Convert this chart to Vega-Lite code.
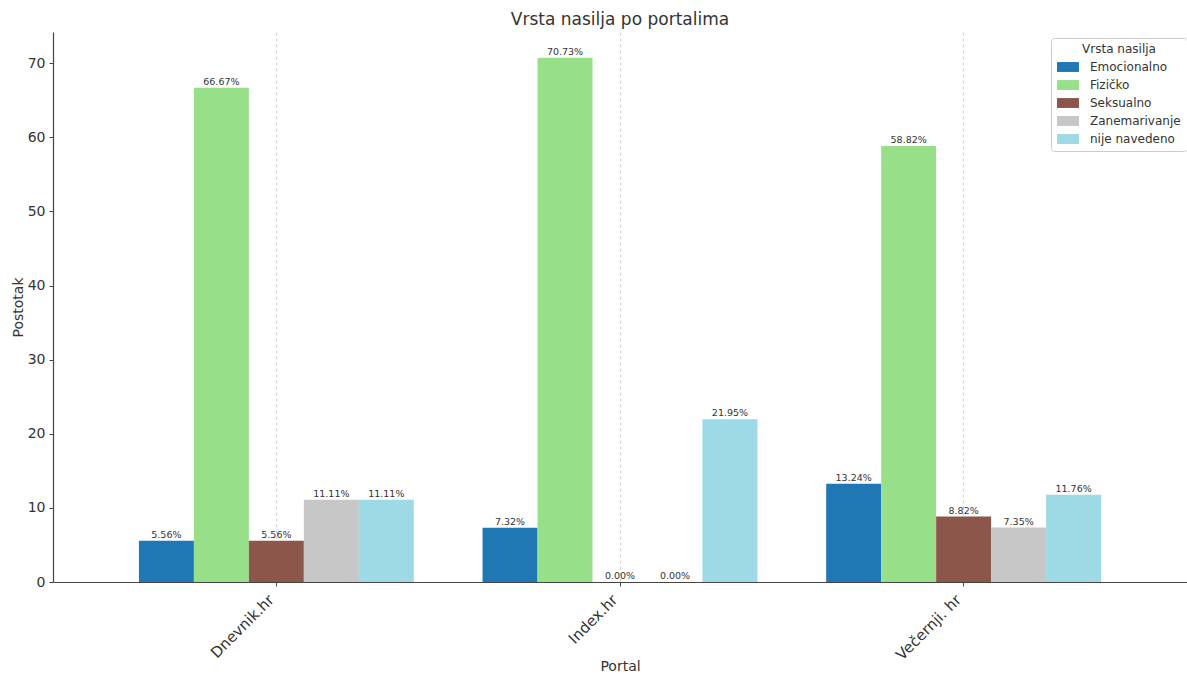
{
  "$schema": "https://vega.github.io/schema/vega-lite/v6.json",
  "width": 1134,
  "height": 550,
  "autosize": "none",
  "padding": {"left": 53, "top": 32, "right": 0, "bottom": 92},
  "background": "white",
  "config": {
    "font": "DejaVu Sans",
    "view": {"stroke": null},
    "axis": {"labelColor": "#333333", "titleColor": "#333333", "labelFont": "DejaVu Sans", "titleFont": "DejaVu Sans", "titleFontWeight": "normal"}
  },
  "title": {"text": "Vrsta nasilja po portalima", "fontSize": 17, "fontWeight": "normal", "color": "#333333", "anchor": "middle", "offset": 3},
  "data": {
    "values": [
      {"Portal": "Dnevnik.hr", "Vrsta": "Emocionalno", "Postotak": 5.56},
      {"Portal": "Dnevnik.hr", "Vrsta": "Fizičko", "Postotak": 66.67},
      {"Portal": "Dnevnik.hr", "Vrsta": "Seksualno", "Postotak": 5.56},
      {"Portal": "Dnevnik.hr", "Vrsta": "Zanemarivanje", "Postotak": 11.11},
      {"Portal": "Dnevnik.hr", "Vrsta": "nije navedeno", "Postotak": 11.11},
      {"Portal": "Index.hr", "Vrsta": "Emocionalno", "Postotak": 7.32},
      {"Portal": "Index.hr", "Vrsta": "Fizičko", "Postotak": 70.73},
      {"Portal": "Index.hr", "Vrsta": "Seksualno", "Postotak": 0.0},
      {"Portal": "Index.hr", "Vrsta": "Zanemarivanje", "Postotak": 0.0},
      {"Portal": "Index.hr", "Vrsta": "nije navedeno", "Postotak": 21.95},
      {"Portal": "Večernji. hr", "Vrsta": "Emocionalno", "Postotak": 13.24},
      {"Portal": "Večernji. hr", "Vrsta": "Fizičko", "Postotak": 58.82},
      {"Portal": "Večernji. hr", "Vrsta": "Seksualno", "Postotak": 8.82},
      {"Portal": "Večernji. hr", "Vrsta": "Zanemarivanje", "Postotak": 7.35},
      {"Portal": "Večernji. hr", "Vrsta": "nije navedeno", "Postotak": 11.76}
    ]
  },
  "encoding": {
    "x": {
      "field": "Portal", "type": "nominal",
      "scale": {"paddingInner": 0.2, "paddingOuter": 0.25},
      "axis": {
        "title": "Portal", "titleFontSize": 14, "titleY": 88, "titleBaseline": "alphabetic",
        "labelAngle": -45, "labelAlign": "right", "labelBaseline": "top", "labelFontSize": 15, "labelPadding": 6, "labelOffset": -10,
        "bandPosition": 0.5, "grid": true, "gridColor": "#bbbbbb", "gridDash": [3, 3], "gridWidth": 0.7,
        "domainColor": "#444444", "domainWidth": 1.2, "tickColor": "#444444", "tickSize": 4
      }
    },
    "y": {
      "field": "Postotak", "type": "quantitative",
      "scale": {"domain": [0, 74.2], "nice": false},
      "axis": {
        "title": "Postotak", "titleFontSize": 14, "titleX": -35, "titleBaseline": "middle",
        "labelFontSize": 14, "labelPadding": 4, "values": [0, 10, 20, 30, 40, 50, 60, 70],
        "grid": false, "domainColor": "#444444", "domainWidth": 1.2, "tickColor": "#444444", "tickSize": 4
      }
    },
    "xOffset": {"field": "Vrsta", "type": "nominal", "scale": {"paddingInner": 0, "paddingOuter": 0}}
  },
  "layer": [
    {
      "mark": {"type": "bar"},
      "encoding": {
        "color": {
          "field": "Vrsta", "type": "nominal",
          "scale": {
            "domain": ["Emocionalno", "Fizičko", "Seksualno", "Zanemarivanje", "nije navedeno"],
            "range": ["#1f77b4", "#98df8a", "#8c564b", "#c7c7c7", "#9edae5"]
          },
          "legend": {
            "title": "Vrsta nasilja", "orient": "none", "legendX": 998, "legendY": 6,
            "titleFontSize": 12, "titleFontWeight": "normal", "titleColor": "#333333", "titleAnchor": "middle", "titlePadding": 0,
            "labelFontSize": 12, "labelColor": "#333333", "labelOffset": 11,
            "symbolType": "M-1,-0.45H1V0.45H-1Z", "symbolSize": 484, "symbolStrokeWidth": 0, "symbolOpacity": 1,
            "rowPadding": 1, "padding": 6, "strokeColor": "#cccccc", "fillColor": "white", "cornerRadius": 3
          }
        }
      }
    },
    {
      "transform": [{"calculate": "format(datum.Postotak, '.2f') + '%'", "as": "Oznaka"}],
      "mark": {"type": "text", "baseline": "bottom", "dy": -1, "fontSize": 9.5, "color": "#333333"},
      "encoding": {
        "text": {"field": "Oznaka", "type": "nominal"}
      }
    }
  ]
}
